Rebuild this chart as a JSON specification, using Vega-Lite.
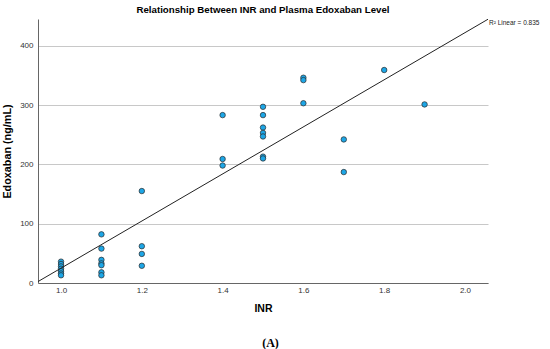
{
  "$schema": "https://vega.github.io/schema/vega-lite/v6.json",
  "padding": {"left": 1, "top": 4, "right": 0, "bottom": 2},
  "config": {"view": {"stroke": null}, "font": "Liberation Sans"},
  "title": {"text": "(A)", "orient": "bottom", "font": "Liberation Serif", "fontSize": 12, "fontWeight": "bold", "color": "#000", "offset": 24, "anchor": "middle"},
  "datasets": {
    "points": [
      {"inr": 1.0, "edoxaban": 36}, {"inr": 1.0, "edoxaban": 32}, {"inr": 1.0, "edoxaban": 28}, {"inr": 1.0, "edoxaban": 24}, {"inr": 1.0, "edoxaban": 20}, {"inr": 1.0, "edoxaban": 16}, {"inr": 1.0, "edoxaban": 13},
      {"inr": 1.1, "edoxaban": 82}, {"inr": 1.1, "edoxaban": 58}, {"inr": 1.1, "edoxaban": 39}, {"inr": 1.1, "edoxaban": 33}, {"inr": 1.1, "edoxaban": 30}, {"inr": 1.1, "edoxaban": 18}, {"inr": 1.1, "edoxaban": 13},
      {"inr": 1.2, "edoxaban": 155}, {"inr": 1.2, "edoxaban": 62}, {"inr": 1.2, "edoxaban": 49}, {"inr": 1.2, "edoxaban": 29},
      {"inr": 1.4, "edoxaban": 283}, {"inr": 1.4, "edoxaban": 209}, {"inr": 1.4, "edoxaban": 198},
      {"inr": 1.5, "edoxaban": 297}, {"inr": 1.5, "edoxaban": 283}, {"inr": 1.5, "edoxaban": 262}, {"inr": 1.5, "edoxaban": 253}, {"inr": 1.5, "edoxaban": 247}, {"inr": 1.5, "edoxaban": 213}, {"inr": 1.5, "edoxaban": 210},
      {"inr": 1.6, "edoxaban": 346}, {"inr": 1.6, "edoxaban": 342}, {"inr": 1.6, "edoxaban": 303},
      {"inr": 1.7, "edoxaban": 242}, {"inr": 1.7, "edoxaban": 187},
      {"inr": 1.8, "edoxaban": 359},
      {"inr": 1.9, "edoxaban": 301}
    ],
    "fit": [
      {"inr": 0.943, "edoxaban": 2.4, "label": ""},
      {"inr": 2.057, "edoxaban": 444.6, "label": "R² Linear = 0.835"}
    ]
  },
  "vconcat": [
    {
      "title": {"text": "Relationship Between INR and Plasma Edoxaban Level", "fontSize": 9.7, "fontWeight": "bold", "offset": 3, "anchor": "middle", "color": "#000"},
      "width": 450,
      "height": 264,
      "encoding": {
        "x": {"field": "inr", "type": "quantitative", "scale": {"domain": [0.943, 2.057], "nice": false, "zero": false},
          "axis": {"values": [1.0, 1.2, 1.4, 1.6, 1.8, 2.0], "format": ".1f", "ticks": false, "grid": false, "labelFontSize": 8, "labelColor": "#333", "labelPadding": 3, "domainColor": "#666", "title": "INR", "titleFontSize": 10.5, "titleFontWeight": "bold", "titleColor": "#000", "titlePadding": 9}},
        "y": {"field": "edoxaban", "type": "quantitative", "scale": {"domain": [0, 445], "nice": false},
          "axis": {"values": [0, 100, 200, 300, 400], "ticks": false, "grid": true, "gridColor": "#c8c8c8", "labelFontSize": 8, "labelColor": "#333", "labelPadding": 5, "domainColor": "#666", "title": "Edoxaban (ng/mL)", "titleFontSize": 10.8, "titleFontWeight": "bold", "titleColor": "#000", "titlePadding": 7}}
      },
      "layer": [
        {"data": {"name": "points"}, "mark": {"type": "circle", "fill": "#1da6e6", "stroke": "#2a2a2a", "strokeWidth": 0.7, "size": 30, "opacity": 1}},
        {"data": {"name": "fit"}, "mark": {"type": "line", "color": "#222", "strokeWidth": 1}},
        {"data": {"name": "fit"}, "transform": [{"filter": "datum.inr > 2"}], "mark": {"type": "text", "align": "left", "baseline": "middle", "dx": 1, "dy": 4, "fontSize": 6.5, "color": "#222"}, "encoding": {"text": {"field": "label"}}}
      ]
    }
  ]
}
